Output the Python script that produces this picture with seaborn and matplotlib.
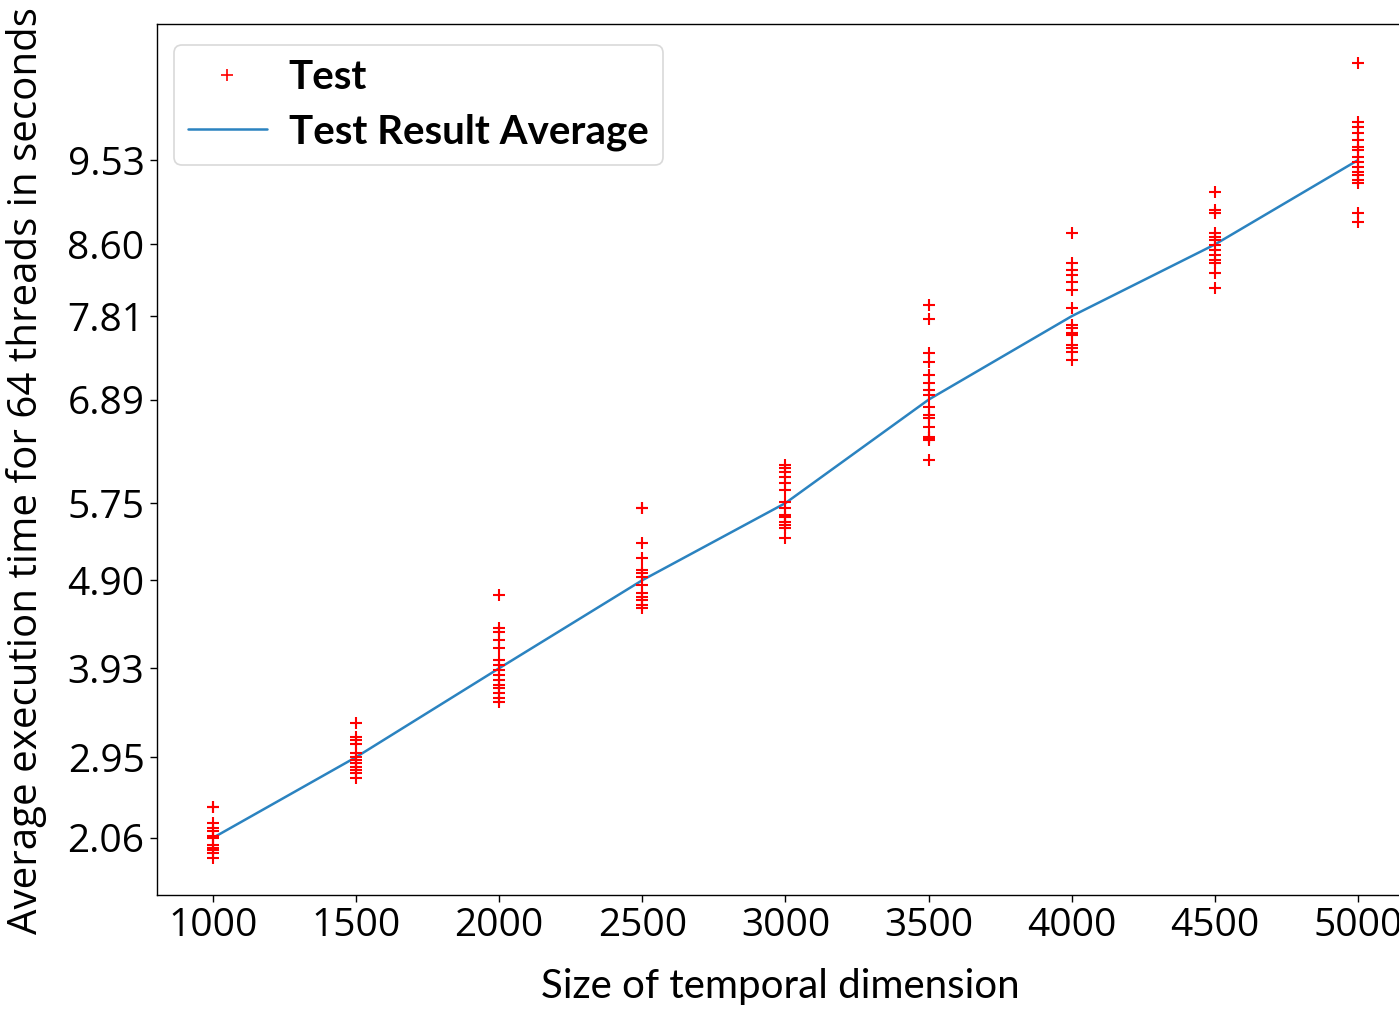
import matplotlib
matplotlib.use("Agg")
import matplotlib.pyplot as plt
from matplotlib.lines import Line2D
import seaborn as sns
import pandas as pd
import numpy as np

# ---- data ----
sizes = [1000, 1500, 2000, 2500, 3000, 3500, 4000, 4500, 5000]
averages = [2.06, 2.95, 3.93, 4.90, 5.75, 6.89, 7.81, 8.60, 9.53]
ytick_labels = ["2.06", "2.95", "3.93", "4.90", "5.75", "6.89", "7.81", "8.60", "9.53"]

tests_1000 = [2.40, 2.40, 2.225, 2.17, 2.13, 2.08, 2.06, 1.98, 1.95, 1.93, 1.895, 1.84]
tests_1500 = [3.327, 3.17, 3.14, 3.095, 2.996, 2.95, 2.92, 2.885, 2.84, 2.81, 2.78, 2.725]
tests_2000 = [4.737, 4.374, 4.33, 4.241, 4.153, 4.021, 3.966, 3.911, 3.856, 3.80,
              3.745, 3.712, 3.657, 3.60, 3.558]
tests_2500 = [5.696, 5.696, 5.31, 5.145, 5.013, 4.98, 4.935, 4.847, 4.759, 4.715,
              4.682, 4.627, 4.594]
tests_3000 = [6.17, 6.136, 6.092, 6.037, 5.971, 5.894, 5.762, 5.696, 5.619, 5.597,
              5.541, 5.508, 5.475, 5.365]
tests_3500 = [7.932, 7.778, 7.404, 7.304, 7.161, 7.073, 6.996, 6.94, 6.809, 6.72,
              6.687, 6.59, 6.478, 6.467, 6.445, 6.225]
tests_4000 = [8.726, 8.395, 8.318, 8.263, 8.186, 8.098, 7.899, 7.712, 7.679, 7.624,
              7.602, 7.492, 7.459, 7.415, 7.326]
tests_4500 = [9.177, 8.979, 8.946, 8.726, 8.682, 8.649, 8.593, 8.538, 8.483, 8.428,
              8.395, 8.285, 8.12]
tests_5000 = [10.599, 9.949, 9.894, 9.827, 9.75, 9.673, 9.64, 9.563, 9.508, 9.453,
              9.398, 9.365, 9.31, 9.277, 8.946, 8.847]

all_tests = [tests_1000, tests_1500, tests_2000, tests_2500, tests_3000,
             tests_3500, tests_4000, tests_4500, tests_5000]

rows = []
for s, vals in zip(sizes, all_tests):
    for v in vals:
        rows.append((s, v))
scatter_df = pd.DataFrame(rows, columns=["size", "time"])
avg_df = pd.DataFrame({"size": sizes, "time": averages})

# ---- style ----
sns.set_theme(style="ticks")
plt.rcParams["font.family"] = ["Open Sans", "DejaVu Sans"]
plt.rcParams["axes.edgecolor"] = "black"
plt.rcParams["axes.linewidth"] = 1.0
plt.rcParams["text.color"] = "black"
plt.rcParams["axes.labelcolor"] = "black"
plt.rcParams["xtick.color"] = "black"
plt.rcParams["ytick.color"] = "black"

W, H = 1399, 1009
ax_l, ax_r, ax_t, ax_b = 157, 1420, 24, 895
fig = plt.figure(figsize=(W / 100, H / 100), dpi=100)
ax = fig.add_axes([ax_l / W, 1 - ax_b / H, (ax_r - ax_l) / W, (ax_b - ax_t) / H])
axw, axh = ax_r - ax_l, ax_b - ax_t

line_color = "#2b83c0"
sns.scatterplot(data=scatter_df, x="size", y="time", marker="+", color="red",
                s=70, linewidth=1.5, ax=ax, legend=False, zorder=3)
sns.lineplot(data=avg_df, x="size", y="time", color=line_color, linewidth=1.8,
             ax=ax, legend=False, zorder=2)

# x scale: 1000 at px 213, 5000 at px 1358
xpp = 4000 / (1358 - 213)
ax.set_xlim(1000 - (213 - ax_l) * xpp, 5000 + (ax_r - 1358) * xpp)
ax.set_ylim(1.43, 11.03)
ax.set_xticks(sizes)
ax.set_xticklabels([str(s) for s in sizes])
ax.set_yticks(averages)
ax.set_yticklabels(ytick_labels)
ax.tick_params(axis="both", labelsize=28, length=5, width=1, color="black",
               labelcolor="black", pad=4)

ax.set_xlabel("Size of temporal dimension", fontsize=29, family=["Lato", "DejaVu Sans"])
ax.xaxis.set_label_coords((780 - ax_l) / axw, (ax_b - 968) / axh)
ax.set_ylabel("Average execution time for 64 threads in seconds", fontsize=29)
ax.yaxis.set_label_coords(-(ax_l - 47) / axw, (ax_b - 471) / axh)

handles = [
    Line2D([], [], linestyle="none", marker="+", color="red", markersize=8,
           markeredgewidth=1.2, label="Test"),
    Line2D([], [], color=line_color, linewidth=1.8, label="Test Result Average"),
]
leg = ax.legend(handles=handles, loc="upper left",
                bbox_to_anchor=((174 - ax_l) / axw, (ax_b - 45) / axh),
                borderaxespad=0,
                prop={"family": ["Lato", "DejaVu Sans"], "weight": "bold", "size": 29},
                frameon=True, fancybox=True, edgecolor="#d9d9d9", framealpha=1.0,
                borderpad=0.35, labelspacing=0.42, handlelength=1.95, handletextpad=0.55)
leg.get_frame().set_linewidth(1.2)

fig.savefig("out.png", dpi=100)
